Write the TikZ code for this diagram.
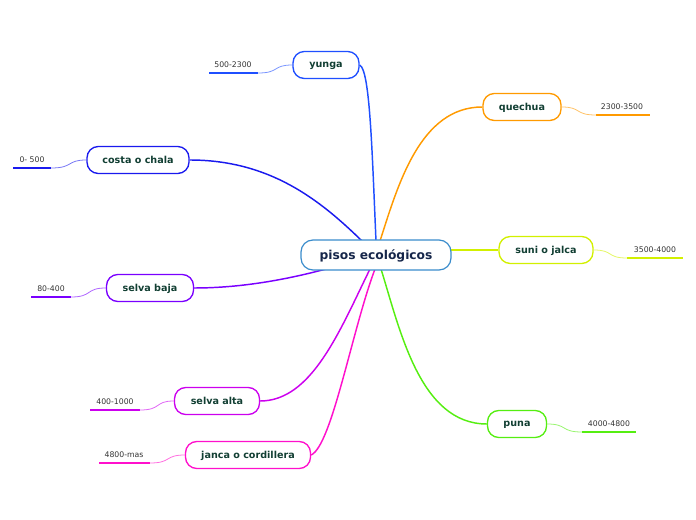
\documentclass[tikz,border=0pt]{standalone}
\usepackage{fontspec}
\setmainfont{DejaVu Sans}
\definecolor{cblue}{HTML}{1F4FFF}
\definecolor{corange}{HTML}{FF9A00}
\definecolor{ccosta}{HTML}{1A1AEE}
\definecolor{csuni}{HTML}{D2F000}
\definecolor{cbaja}{HTML}{7A00FF}
\definecolor{calta}{HTML}{CC00EE}
\definecolor{cjanca}{HTML}{FF10CC}
\definecolor{cpuna}{HTML}{55EE11}
\definecolor{ccenter}{HTML}{3A8CCC}
\definecolor{txtgreen}{HTML}{123F33}
\definecolor{txtnavy}{HTML}{16264A}
\definecolor{txtgray}{HTML}{333333}
\pgfdeclarelayer{bg}
\pgfsetlayers{bg,main}
\begin{document}
\begin{tikzpicture}[x=0.75pt,y=-0.75pt,
  topic/.style={draw=#1, line width=1pt, rounded corners=8.5pt, fill=white,
    font=\bfseries\fontsize{7.2}{8}\selectfont, text=txtgreen, inner sep=0pt,
    minimum height=20.25pt, text depth=0pt},
  central/.style={draw=ccenter, line width=0.9pt, rounded corners=9pt, fill=white,
    font=\bfseries\fontsize{9.2}{11}\selectfont, text=txtnavy, inner sep=0pt,
    minimum width=112.5pt, minimum height=22.5pt, text depth=0pt},
  leaf/.style={font=\fontsize{5.8}{7}\selectfont, text=txtgray, inner sep=0pt},
  uline/.style={draw=#1, line width=2pt},
  main/.style={draw=#1, line width=1.1pt},
  sub/.style={draw=#1!60, line width=0.6pt}]
\useasboundingbox (0,0) rectangle (696,520);

% central node
\node[central] (c) at (376,255) {pisos ecológicos};

% topic nodes
\node[topic=cblue,   minimum width=49.5pt]  (yunga)   at (326,65)  {yunga};
\node[topic=corange, minimum width=58.5pt]  (quechua) at (522,107) {quechua};
\node[topic=ccosta,  minimum width=76.5pt]  (costa)   at (138,160) {costa o chala};
\node[topic=csuni,   minimum width=70.5pt]  (suni)    at (546,250) {suni o jalca};
\node[topic=cbaja,   minimum width=65.25pt] (baja)    at (150,288) {selva baja};
\node[topic=calta,   minimum width=63.75pt] (alta)    at (217,401) {selva alta};
\node[topic=cjanca,  minimum width=93.75pt] (janca)   at (248,455) {janca o cordillera};
\node[topic=cpuna,   minimum width=44.25pt] (puna)    at (517,424) {puna};

% connector end points on the central node
\coordinate (cy) at (376,241);
\coordinate (cq) at (380,241);
\coordinate (cc) at (362,241);
\coordinate (cs) at (451,250);
\coordinate (cb) at (330,268);
\coordinate (ca) at (370,269);
\coordinate (cj) at (375,269);
\coordinate (cp) at (381,269);

% leaf labels and their underlines
\node[leaf] (l1) at (233,65)  {500-2300};
\coordinate (l1a) at (209,73); \coordinate (l1b) at (258,73);
\node[leaf] (l2) at (32,160)  {0- 500};
\coordinate (l2a) at (13,168); \coordinate (l2b) at (51,168);
\node[leaf] (l3) at (622,107) {2300-3500};
\coordinate (l3a) at (596,115); \coordinate (l3b) at (650,115);
\node[leaf] (l4) at (655,250) {3500-4000};
\coordinate (l4a) at (627,258); \coordinate (l4b) at (683,258);
\node[leaf] (l5) at (51,289) {80-400};
\coordinate (l5a) at (31,297); \coordinate (l5b) at (71,297);
\node[leaf] (l6) at (115,402) {400-1000};
\coordinate (l6a) at (90,410); \coordinate (l6b) at (140,410);
\node[leaf] (l7) at (124,455) {4800-mas};
\coordinate (l7a) at (99,463); \coordinate (l7b) at (150,463);
\node[leaf] (l8) at (609,424) {4000-4800};
\coordinate (l8a) at (582,432); \coordinate (l8b) at (636,432);

\begin{pgfonlayer}{bg}
% main connectors
\draw[main=cblue]   (yunga.east) .. controls (370,70) and (372,150) .. (cy);
\draw[main=corange] (quechua.west) .. controls (420,107) and (398,185) .. (cq);
\draw[main=ccosta]  (costa.east) .. controls (270,160) and (320,200) .. (cc);
\draw[main=csuni]   (cs) .. controls (470,250) and (480,250) .. (suni.west);
\draw[main=cbaja]   (baja.east) .. controls (250,288) and (300,276) .. (cb);
\draw[main=calta]   (alta.east) .. controls (312,401) and (340,330) .. (ca);
\draw[main=cjanca]  (janca.east) .. controls (332,445) and (352,330) .. (cj);
\draw[main=cpuna]   (puna.west) .. controls (420,424) and (400,330) .. (cp);
% leaf connectors
\draw[uline=cblue] (l1a) -- (l1b);
\draw[sub=cblue] (yunga.west) .. controls (272,65) and (280,73) .. (l1b);
\draw[uline=ccosta] (l2a) -- (l2b);
\draw[sub=ccosta] (costa.west) .. controls (66,160) and (74,168) .. (l2b);
\draw[uline=corange] (l3a) -- (l3b);
\draw[sub=corange] (quechua.east) .. controls (582,107) and (574,115) .. (l3a);
\draw[uline=csuni] (l4a) -- (l4b);
\draw[sub=csuni] (suni.east) .. controls (614,250) and (606,258) .. (l4a);
\draw[uline=cbaja] (l5a) -- (l5b);
\draw[sub=cbaja] (baja.west) .. controls (85,288) and (93,297) .. (l5b);
\draw[uline=calta] (l6a) -- (l6b);
\draw[sub=calta] (alta.west) .. controls (154,401) and (162,410) .. (l6b);
\draw[uline=cjanca] (l7a) -- (l7b);
\draw[sub=cjanca] (janca.west) .. controls (164,455) and (172,463) .. (l7b);
\draw[uline=cpuna] (l8a) -- (l8b);
\draw[sub=cpuna] (puna.east) .. controls (568,424) and (560,432) .. (l8a);
\end{pgfonlayer}
\end{tikzpicture}
\end{document}
